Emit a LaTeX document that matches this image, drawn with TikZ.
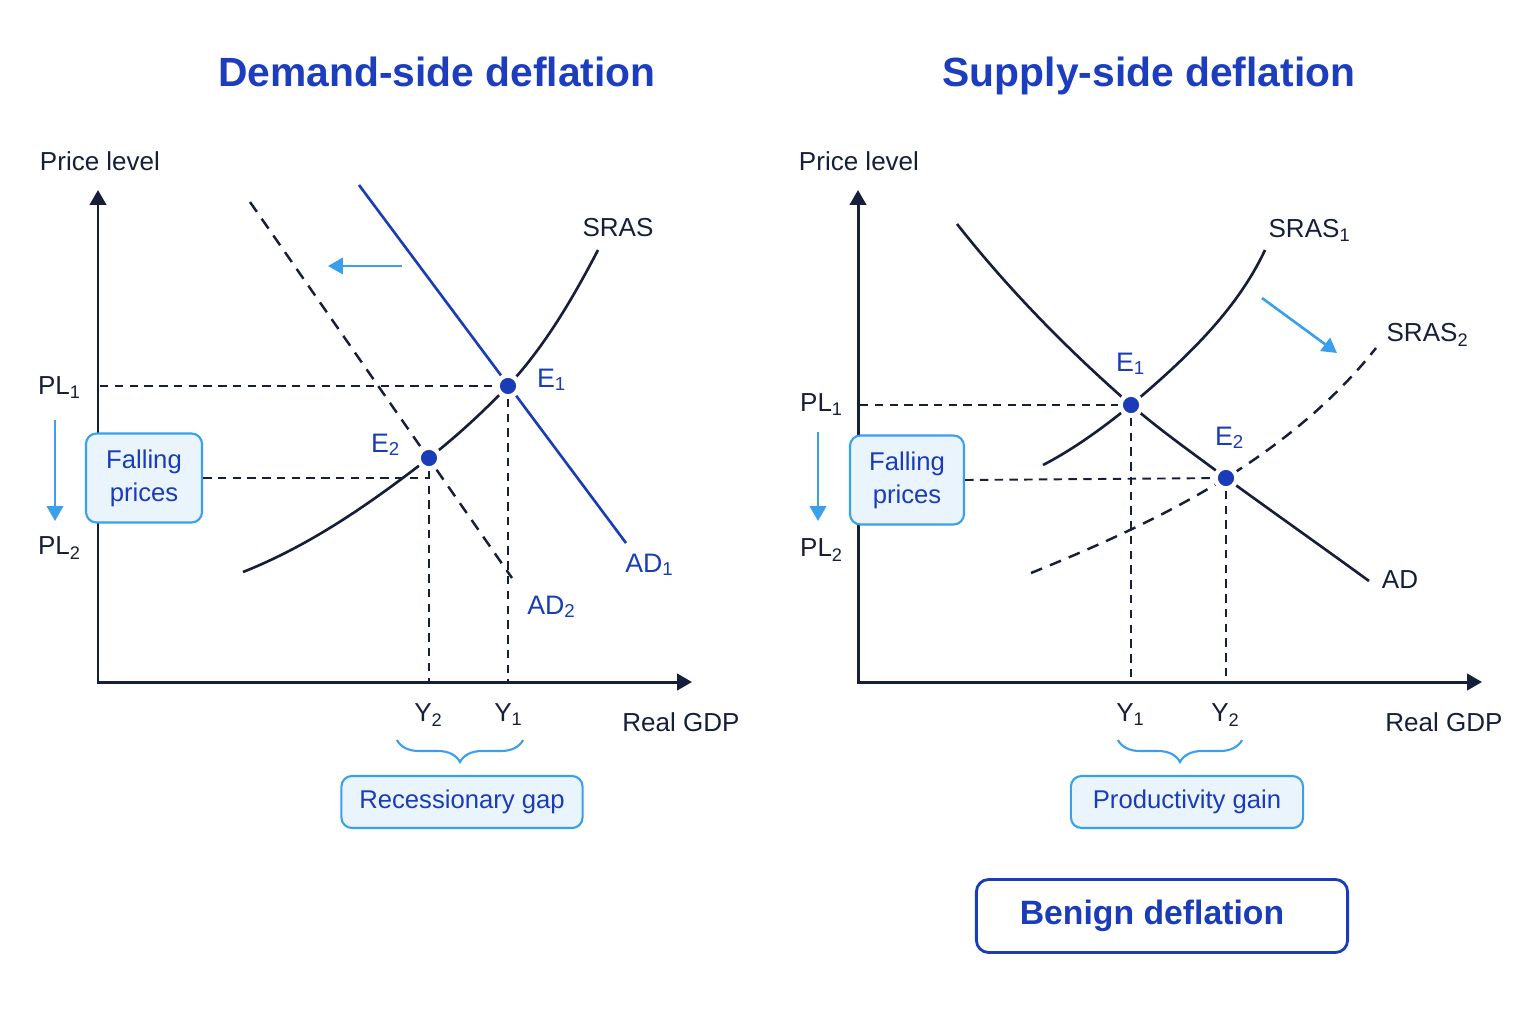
\documentclass[tikz,border=0pt]{standalone}
\usepackage{fontspec}
\setmainfont{Liberation Sans}
\usetikzlibrary{arrows.meta}
\usetikzlibrary{decorations.pathreplacing}

\definecolor{inkNavy}{RGB}{22,30,58}
\definecolor{titleBlue}{RGB}{28,62,190}
\definecolor{curveBlue}{RGB}{26,60,184}
\definecolor{skyBlue}{RGB}{58,160,236}
\definecolor{boxFill}{RGB}{234,244,253}

\begin{document}
\begin{tikzpicture}[x=0.01cm,y=-0.01cm]
\useasboundingbox (0,0) rectangle (1536,1024);

% points of both panels
\coordinate (lorig) at (98,682);
\coordinate (lytop) at (98,190);
\coordinate (lxend) at (692,682);
\coordinate (le1c) at (508,386);
\coordinate (le2c) at (429,458);
\coordinate (lsr_a) at (243,572);
\coordinate (lsr_b) at (598,250);
\coordinate (lad1_a) at (359,185);
\coordinate (lad1_b) at (626,543);
\coordinate (lad2_a) at (250,202);
\coordinate (lad2_b) at (512,578);
\coordinate (lpl1) at (100,386);
\coordinate (lpl2) at (429,478);
\coordinate (lsh_a) at (402,266);
\coordinate (lsh_b) at (328,266);
\coordinate (lfa_a) at (55,420);
\coordinate (lfa_b) at (55,521);
\coordinate (lbr_a) at (523,740);
\coordinate (lbr_b) at (397,740);

\coordinate (rorig) at (858,682);
\coordinate (rytop) at (858,190);
\coordinate (rxend) at (1482,682);
\coordinate (re1c) at (1131,405);
\coordinate (re2c) at (1226,478);
\coordinate (rad_a) at (957,224);
\coordinate (rad_b) at (1369,581);
\coordinate (rs1_a) at (1043,465);
\coordinate (rs1_b) at (1265,250);
\coordinate (rs2_a) at (1031,573);
\coordinate (rs2_b) at (1376,348);
\coordinate (rpl1) at (860,405);
\coordinate (rsh_a) at (1262,298);
\coordinate (rsh_b) at (1337,353);
\coordinate (rfa_a) at (818,432);
\coordinate (rfa_b) at (818,521);
\coordinate (rbr_a) at (1242,740);
\coordinate (rbr_b) at (1118,740);

\begin{scope}[>={Triangle[length=4.2pt,width=4.6pt]},
              axis_line/.style={draw=inkNavy,line width=0.85pt},
              sras_line/.style={draw=inkNavy,line width=0.75pt},
              ad_blue/.style={draw=curveBlue,line width=0.75pt},
              shift_dash/.style={draw=inkNavy,line width=0.7pt,dash pattern=on 3.4pt off 2.4pt},
              shift_arrow/.style={draw=skyBlue,line width=0.75pt}]
    \draw [axis_line,<->] (lytop) -- (lorig) -- (lxend);
    \draw [axis_line,<->] (rytop) -- (rorig) -- (rxend);
    % left panel
    \draw [sras_line] (lsr_a) .. controls (311,545) and (371,503) .. (le2c)
                              .. controls (457,436) and (483,412) .. (le1c)
                              .. controls (545,346) and (573,298) .. (lsr_b);
    \path (lad1_a) edge [ad_blue] (lad1_b);
    \path (lad2_a) edge [shift_dash] (lad2_b);
    % right panel
    \draw [sras_line] (rad_a) .. controls (1009,290) and (1068,350) .. (re1c)
                              .. controls (1161,431) and (1194,454) .. (re2c)
                              .. controls (1274,513) and (1321,546) .. (rad_b);
    \draw [sras_line] (rs1_a) .. controls (1074,449) and (1104,427) .. (re1c)
                              .. controls (1183,361) and (1236,312) .. (rs1_b);
    \draw [shift_dash] (rs2_a) .. controls (1098,546) and (1165,516) .. (re2c)
                               .. controls (1282,443) and (1335,400) .. (rs2_b);
    \path [->] (lsh_a) edge [shift_arrow] (lsh_b);
    \path [->] (rsh_a) edge [shift_arrow] (rsh_b);
    \path [->] (lfa_a) edge [shift_arrow] (lfa_b);
    \path [->] (rfa_a) edge [shift_arrow] (rfa_b);
\end{scope}

% equilibrium points
\begin{scope}[every node/.style={circle,fill=curveBlue,draw=white,line width=1.3pt,
                                 minimum size=0.21cm,inner sep=0pt}]
    \node (le1) at (le1c) {};
    \node (le2) at (le2c) {};
    \node (re1) at (re1c) {};
    \node (re2) at (re2c) {};
\end{scope}

% boxes
\begin{scope}[every node/.style={draw=skyBlue,fill=boxFill,rounded corners=3pt,
                                 line width=0.6pt,text=curveBlue,align=center,
                                 inner sep=0pt,font=\fontsize{7.3}{9.4}\selectfont}]
    \node [minimum width=1.16cm,minimum height=0.89cm] (lfall) at (144,478) {Falling\\prices};
    \node [minimum width=1.14cm,minimum height=0.89cm] (rfall) at (907,480) {Falling\\prices};
    \node [minimum width=2.41cm,minimum height=0.52cm] (lgap) at (462,802) {Recessionary gap};
    \node [minimum width=2.32cm,minimum height=0.52cm] (rgain) at (1187,802) {Productivity gain};
\end{scope}
\node [draw=curveBlue,fill=white,rounded corners=3.5pt,line width=0.8pt,
       minimum width=3.71cm,minimum height=0.73cm,text=curveBlue,
       font=\fontsize{9.6}{12}\selectfont\bfseries] (benign) at (1162,916) {Benign deflation\hspace*{0.2cm}};

% guide lines and braces
\begin{scope}[guide_line/.style={draw=inkNavy,line width=0.55pt,dash pattern=on 2.4pt off 1.8pt},
              gap_brace/.style={draw=skyBlue,line width=0.6pt,decorate,
                                decoration={brace,amplitude=0.22cm}}]
    \path (lpl1) edge [guide_line] (le1);
    \path (lfall.east) edge [guide_line] (lpl2);
    \path (le1) edge [guide_line] (le1c |- lorig);
    \path (le2) edge [guide_line] (le2c |- lorig);
    \path (rpl1) edge [guide_line] (re1);
    \path (rfall.east) edge [guide_line] (re2);
    \path (re1) edge [guide_line] (re1c |- rorig);
    \path (re2) edge [guide_line] (re2c |- rorig);
    \draw [gap_brace] (lbr_a) -- (lbr_b);
    \draw [gap_brace] (rbr_a) -- (rbr_b);
\end{scope}

% titles
\begin{scope}[every node/.style={anchor=base,text=titleBlue,font=\fontsize{11.6}{14}\selectfont\bfseries}]
    \node (tdem) at (437,86) {Demand-side deflation};
    \node (tsup) at (1149,86) {Supply-side deflation};
\end{scope}

% axis and curve labels
\begin{scope}[every node/.style={text=inkNavy,font=\fontsize{7.4}{9}\selectfont}]
    \node (lplev) at (100,161) {Price level};
    \node (rplev) at (859,161) {Price level};
    \node (lgdp) at (681,722) {Real GDP};
    \node (rgdp) at (1444,722) {Real GDP};
    \node (lpl1t) at (60,388) {PL\textsubscript{1}};
    \node (lpl2t) at (60,548) {PL\textsubscript{2}};
    \node (rpl1t) at (822,405) {PL\textsubscript{1}};
    \node (rpl2t) at (822,550) {PL\textsubscript{2}};
    \node (ly2) at (429,715) {Y\textsubscript{2}};
    \node (ly1) at (509,715) {Y\textsubscript{1}};
    \node (ry1) at (1131,715) {Y\textsubscript{1}};
    \node (ry2) at (1226,715) {Y\textsubscript{2}};
    \node (lsras) at (618,228) {SRAS};
    \node (rsras1) at (1310,230) {SRAS\textsubscript{1}};
    \node (rsras2) at (1428,335) {SRAS\textsubscript{2}};
    \node (rad) at (1400,580) {AD};
\end{scope}
\begin{scope}[every node/.style={text=curveBlue,font=\fontsize{7.6}{9}\selectfont}]
    \node (le1t) at (552,380) {E\textsubscript{1}};
    \node (le2t) at (386,445) {E\textsubscript{2}};
    \node (re1t) at (1131,364) {E\textsubscript{1}};
    \node (re2t) at (1230,438) {E\textsubscript{2}};
    \node (lad1t) at (650,565) {AD\textsubscript{1}};
    \node (lad2t) at (552,607) {AD\textsubscript{2}};
\end{scope}
\end{tikzpicture}
\end{document}
